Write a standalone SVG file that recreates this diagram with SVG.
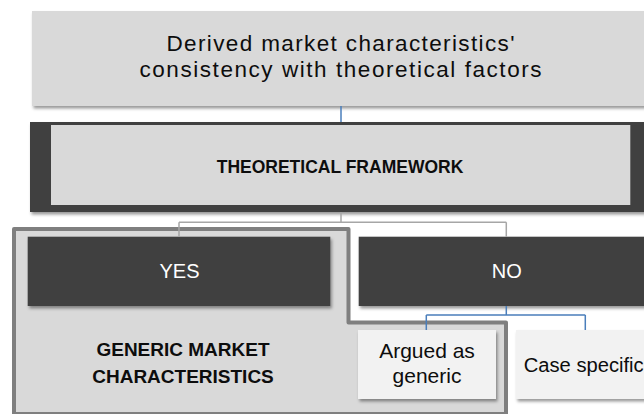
<svg xmlns="http://www.w3.org/2000/svg" width="644" height="414" viewBox="0 0 644 414">
<defs>
<filter id="sh" x="-10%" y="-10%" width="130%" height="140%">
<feDropShadow dx="1.5" dy="2.5" stdDeviation="1.5" flood-color="#000" flood-opacity="0.4"/>
</filter>
<style>
text{font-family:"Liberation Sans",Arial,sans-serif;text-anchor:middle;fill:#0d0d0d}
.light{fill:#d9d9d9}
.dark{fill:#404040}
.pale{fill:#f2f2f2}
.wt{fill:#ffffff}
.b{font-weight:bold}
.grey{fill:none;stroke:#a6a6a6;stroke-width:1.5}
.blue{fill:none;stroke:#4a7ebb;stroke-width:1.5}
</style>
</defs>
<rect width="644" height="414" fill="#ffffff"/>

<g id="generic-region">
<path d="M14,229 H348.5 V322.5 H506 V414 H14 Z" fill="#d9d9d9" stroke="#7f7f7f" stroke-width="4" stroke-linejoin="round"/>
<text class="b" x="183" y="356" font-size="19">GENERIC MARKET</text>
<text class="b" x="183" y="383.3" font-size="19">CHARACTERISTICS</text>
</g>

<g id="question">
<rect class="light" x="32" y="11" width="620" height="95" filter="url(#sh)"/>
<text x="340.5" y="50.5" font-size="22.5" textLength="348">Derived market characteristics'</text>
<text x="340.5" y="76.5" font-size="22.5" textLength="402">consistency with theoretical factors</text>
</g>

<g id="framework">
<rect class="dark" x="30" y="122" width="620" height="90" filter="url(#sh)"/>
<rect class="light" x="51" y="125" width="579.3" height="80"/>
<text class="b" x="340" y="172.7" font-size="17.5">THEORETICAL FRAMEWORK</text>
</g>

<g id="yes">
<rect class="dark" x="27.7" y="236.7" width="302.6" height="69.3" filter="url(#sh)"/>
<text class="wt" x="179.5" y="278.3" font-size="20">YES</text>
</g>

<g id="no">
<rect class="dark" x="358.7" y="236.7" width="300" height="69.3" filter="url(#sh)"/>
<text class="wt" x="506.7" y="278.3" font-size="20">NO</text>
</g>

<g id="argued">
<rect class="pale" x="358" y="330" width="138" height="69" filter="url(#sh)"/>
<text x="427" y="358.3" font-size="21">Argued as</text>
<text x="427" y="383.3" font-size="21">generic</text>
</g>

<g id="case">
<rect class="pale" x="516" y="330" width="140" height="69" filter="url(#sh)"/>
<text x="523.7" y="371.7" font-size="20" style="text-anchor:start" textLength="120" lengthAdjust="spacingAndGlyphs">Case specific</text>
</g>

<g id="connectors">
<line class="blue" x1="341" y1="106" x2="341" y2="122"/>
<path class="grey" d="M341,212 V222.3 M179,222.3 H506.3 M179,222.3 V236.7 M506.3,222.3 V236.7"/>
<path class="blue" d="M506.3,306 V315 M426.3,315 H585.3 M426.3,315 V330 M585.3,315 V330"/>
</g>
</svg>
